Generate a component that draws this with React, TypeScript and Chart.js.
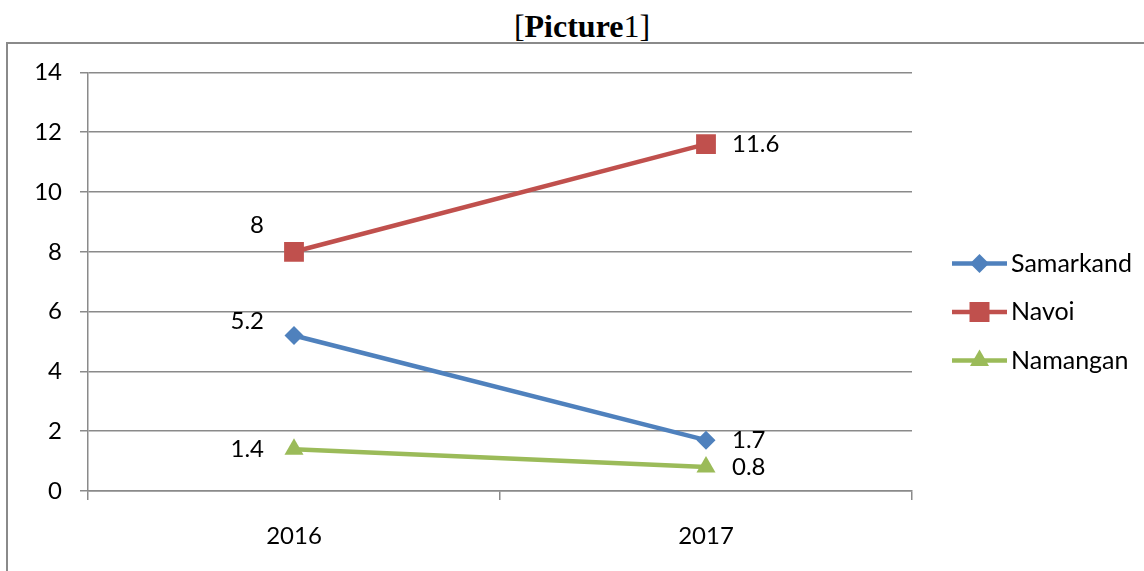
import React, { useEffect, useRef } from "react";
import { Chart, registerables } from "chart.js";

Chart.register(...registerables);

const categories = ["2016", "2017"];
const seriesNames = ["Samarkand", "Navoi", "Namangan"];
const samarkand = [5.2, 1.7];
const navoi = [8, 11.6];
const namangan = [1.4, 0.8];
const yMin = 0;
const yMax = 14;
const yStep = 2;

const colors = ["#4F81BD", "#C0504D", "#9BBB59"];
const markers = ["diamond", "square", "triangle"];
// vertical lift of each value label (Excel moved some to avoid overlap)
const labelLifts = [
  [14, 0],
  [27, 0],
  [0, 0],
];

const FONT = "Lato, 'Noto Sans', sans-serif";
const GRID = "#8a8a8a";

function drawMarker(ctx: CanvasRenderingContext2D, kind: string, x: number, y: number, color: string) {
  ctx.save();
  ctx.fillStyle = color;
  ctx.beginPath();
  if (kind === "diamond") {
    const r = 9.5;
    ctx.moveTo(x, y - r);
    ctx.lineTo(x + r, y);
    ctx.lineTo(x, y + r);
    ctx.lineTo(x - r, y);
  } else if (kind === "square") {
    const s = 10;
    ctx.rect(x - s, y - s, 2 * s, 2 * s);
  } else {
    const r = 11;
    ctx.moveTo(x, y - r);
    ctx.lineTo(x + r * Math.sin((2 * Math.PI) / 3), y + r / 2);
    ctx.lineTo(x - r * Math.sin((2 * Math.PI) / 3), y + r / 2);
  }
  ctx.closePath();
  ctx.fill();
  ctx.restore();
}

const valueLabelPlugin = {
  id: "valueLabels",
  afterDatasetsDraw(chart: any) {
    const ctx: CanvasRenderingContext2D = chart.ctx;
    ctx.save();
    ctx.font = `24px ${FONT}`;
    ctx.fillStyle = "#000";
    ctx.textBaseline = "middle";
    chart.data.datasets.forEach((ds: any, di: number) => {
      const meta = chart.getDatasetMeta(di);
      meta.data.forEach((pt: any, i: number) => {
        const text = String(ds.data[i]);
        const lift = labelLifts[di][i];
        if (i === 0) {
          ctx.textAlign = "right";
          ctx.fillText(text, pt.x - 30, pt.y - lift);
        } else {
          ctx.textAlign = "left";
          ctx.fillText(text, pt.x + 26, pt.y - lift);
        }
      });
    });
    ctx.restore();
  },
};

const legendPlugin = {
  id: "sideLegend",
  afterDraw(chart: any) {
    const ctx: CanvasRenderingContext2D = chart.ctx;
    const n = chart.data.datasets.length;
    const spacing = 48.5;
    const centerY = chart.height / 2 + 6.5;
    const startY = centerY - ((n - 1) * spacing) / 2;
    const x0 = chart.chartArea.right + 40;
    ctx.save();
    chart.data.datasets.forEach((ds: any, i: number) => {
      const y = startY + i * spacing;
      ctx.strokeStyle = colors[i];
      ctx.lineWidth = 4.5;
      ctx.beginPath();
      ctx.moveTo(x0, y);
      ctx.lineTo(x0 + 55, y);
      ctx.stroke();
      drawMarker(ctx, markers[i], x0 + 27.5, y, colors[i]);
      ctx.font = `25px ${FONT}`;
      ctx.fillStyle = "#000";
      ctx.textAlign = "left";
      ctx.textBaseline = "middle";
      ctx.fillText(ds.label, x0 + 59, y);
    });
    ctx.restore();
  },
};

const pointStyles = ["rectRot", "rect", "triangle"];
const pointRadii = [9.5, 14, 11];

export default function App() {
  const canvasRef = useRef<HTMLCanvasElement>(null);

  useEffect(() => {
    if (!canvasRef.current) return;
    const seriesData = [samarkand, navoi, namangan];
    const chart = new Chart(canvasRef.current, {
      type: "line",
      data: {
        labels: categories,
        datasets: seriesData.map((d, i) => ({
          label: seriesNames[i],
          data: d,
          borderColor: colors[i],
          backgroundColor: colors[i],
          borderWidth: 4.5,
          pointStyle: pointStyles[i] as any,
          pointRadius: pointRadii[i],
          pointBorderWidth: 0,
          pointBackgroundColor: colors[i],
          tension: 0,
        })),
      },
      options: {
        animation: false,
        responsive: false,
        maintainAspectRatio: false,
        layout: { padding: { top: 23, right: 232, left: 0, bottom: 0 } },
        plugins: {
          legend: { display: false },
          title: { display: false },
          tooltip: { enabled: false },
        },
        scales: {
          x: {
            type: "category",
            offset: true,
            grid: {
              offset: true,
              drawOnChartArea: false,
              drawTicks: true,
              tickLength: 9,
              color: GRID,
              lineWidth: 1.5,
            },
            border: { display: true, color: GRID, width: 1.5 },
            ticks: {
              color: "#000",
              padding: 22,
              font: { family: FONT, size: 24 },
            },
            afterFit(scale: any) {
              scale.height = 80;
            },
          },
          y: {
            min: yMin,
            max: yMax,
            grid: {
              color: GRID,
              lineWidth: 1.5,
              drawTicks: true,
              tickLength: 8,
            },
            border: { display: true, color: GRID, width: 1.5 },
            ticks: {
              stepSize: yStep,
              color: "#000",
              padding: 18,
              font: { family: FONT, size: 24 },
            },
            afterFit(scale: any) {
              scale.width = 79;
            },
          },
        },
      },
      plugins: [valueLabelPlugin, legendPlugin],
    });
    return () => chart.destroy();
  }, []);

  return (
    <div
      style={{
        position: "fixed",
        left: 0,
        top: 0,
        width: 1144,
        height: 571,
        overflow: "hidden",
        background: "#fff",
      }}
    >
      <div
        style={{
          position: "absolute",
          left: 0,
          top: 10,
          width: 1164,
          textAlign: "center",
          fontFamily: "'Liberation Serif', 'Times New Roman', serif",
          fontSize: 32,
          lineHeight: "32px",
          color: "#000",
        }}
      >
        [<b>Picture</b>1]
      </div>
      <div
        style={{
          position: "absolute",
          left: 6,
          top: 42,
          width: 1300,
          height: 700,
          borderLeft: "2px solid #8a8a8a",
          borderTop: "2px solid #8a8a8a",
        }}
      />
      <canvas
        ref={canvasRef}
        width={1135}
        height={531}
        style={{ position: "absolute", left: 9, top: 40, width: 1135, height: 531 }}
      />
    </div>
  );
}
